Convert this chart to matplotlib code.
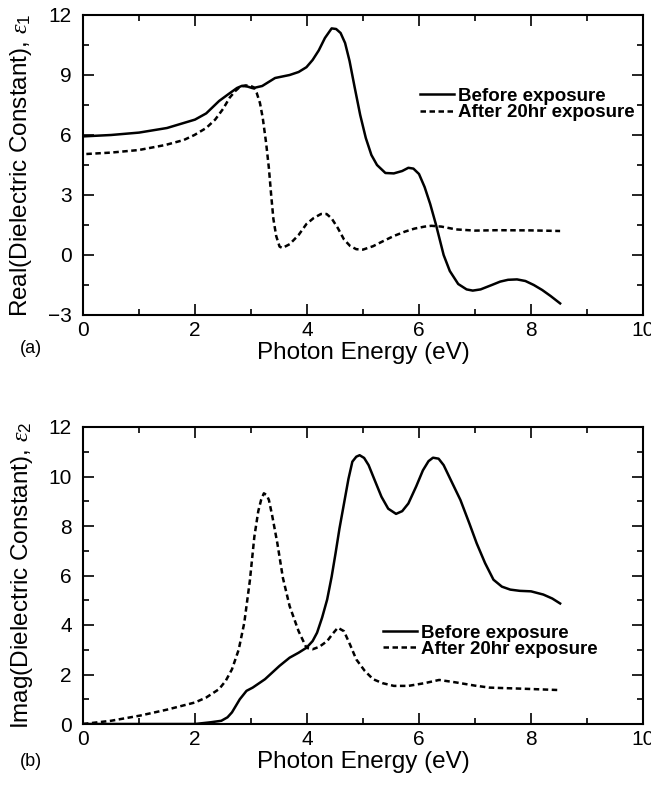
import numpy as np
import matplotlib.pyplot as plt
from matplotlib.ticker import MultipleLocator

plt.rcParams['font.family'] = ['Liberation Sans', 'DejaVu Sans']
plt.rcParams['mathtext.fontset'] = 'custom'
plt.rcParams['mathtext.rm'] = 'Liberation Sans'
plt.rcParams['mathtext.it'] = 'Liberation Serif:italic'

# (a) parte real - antes da exposicao
xa_antes = [0.0, 0.5, 1.0, 1.5, 2.0, 2.2, 2.43, 2.6, 2.75, 2.84, 2.94, 3.03, 3.2, 3.43, 3.69,
            3.85, 3.99, 4.1, 4.21, 4.32, 4.44, 4.52, 4.6, 4.68, 4.76, 4.85, 4.95, 5.05, 5.15,
            5.25, 5.4, 5.55, 5.7, 5.81, 5.9, 6.0, 6.1, 6.2, 6.3, 6.44, 6.55, 6.7, 6.85, 6.96,
            7.1, 7.3, 7.45, 7.59, 7.75, 7.9, 8.05, 8.2, 8.35, 8.52]
ya_antes = [5.93, 6.0, 6.12, 6.35, 6.77, 7.08, 7.7, 8.05, 8.35, 8.46, 8.42, 8.34, 8.45, 8.85, 9.0,
            9.15, 9.39, 9.75, 10.23, 10.85, 11.33, 11.3, 11.1, 10.6, 9.7, 8.4, 7.0, 5.85, 5.0,
            4.5, 4.1, 4.08, 4.2, 4.36, 4.32, 4.05, 3.4, 2.55, 1.55, 0.0, -0.8, -1.45, -1.72, -1.78,
            -1.72, -1.5, -1.33, -1.24, -1.22, -1.3, -1.5, -1.75, -2.05, -2.42]

# (a) parte real - depois de 20h
xa_depois = [0.06, 0.5, 1.0, 1.47, 1.8, 1.99, 2.2, 2.36, 2.5, 2.62, 2.72, 2.8, 2.9, 2.99, 3.05,
             3.1, 3.16, 3.21, 3.27, 3.32, 3.36, 3.4, 3.45, 3.51, 3.56, 3.69, 3.85, 3.99, 4.12,
             4.25, 4.35, 4.44, 4.55, 4.66, 4.77, 4.88, 5.0, 5.18, 5.35, 5.55, 5.75, 5.92, 6.1,
             6.22, 6.4, 6.66, 7.0, 7.4, 8.0, 8.52]
ya_depois = [5.05, 5.12, 5.25, 5.5, 5.75, 6.0, 6.35, 6.77, 7.3, 7.87, 8.2, 8.4, 8.48, 8.46, 8.38,
             8.12, 7.6, 6.85, 5.6, 4.33, 3.0, 1.8, 0.95, 0.42, 0.35, 0.54, 1.0, 1.55, 1.85,
             2.05, 2.05, 1.83, 1.35, 0.78, 0.45, 0.29, 0.27, 0.44, 0.68, 0.95, 1.17, 1.32, 1.42,
             1.46, 1.42, 1.28, 1.22, 1.24, 1.23, 1.2]

# (b) parte imaginaria - antes da exposicao
xb_antes = [0.0, 1.0, 2.0, 2.28, 2.47, 2.58, 2.66, 2.8, 2.92, 3.03, 3.25, 3.51, 3.69, 3.85, 3.99,
            4.1, 4.18, 4.27, 4.36, 4.44, 4.51, 4.58, 4.66, 4.74, 4.81, 4.88, 4.94, 5.02, 5.1,
            5.2, 5.33, 5.45, 5.59, 5.7, 5.81, 5.95, 6.07, 6.17, 6.25, 6.35, 6.44, 6.58, 6.74,
            6.9, 7.03, 7.18, 7.33, 7.48, 7.63, 7.8, 8.0, 8.22, 8.38, 8.52]
yb_antes = [0.0, 0.0, 0.0, 0.07, 0.13, 0.27, 0.47, 1.0, 1.34, 1.47, 1.81, 2.35, 2.68, 2.88, 3.08,
            3.35, 3.69, 4.3, 5.03, 5.95, 6.9, 7.9, 8.9, 9.9, 10.6, 10.8, 10.86, 10.75, 10.46,
            9.9, 9.18, 8.7, 8.49, 8.6, 8.91, 9.6, 10.25, 10.62, 10.76, 10.72, 10.46, 9.8, 9.05,
            8.1, 7.3, 6.5, 5.83, 5.55, 5.43, 5.38, 5.36, 5.23, 5.07, 4.87]

# (b) parte imaginaria - depois de 20h
xb_depois = [0.0, 0.5, 1.02, 1.5, 2.0, 2.2, 2.43, 2.55, 2.66, 2.78, 2.88, 2.98, 3.06, 3.13, 3.18,
             3.23, 3.28, 3.32, 3.38, 3.47, 3.57, 3.69, 3.85, 3.99, 4.1, 4.22, 4.36, 4.46, 4.55,
             4.66, 4.77, 4.88, 5.03, 5.18, 5.35, 5.55, 5.81, 6.1, 6.36, 6.66, 7.0, 7.26, 7.8,
             8.52]
yb_depois = [0.0, 0.13, 0.34, 0.58, 0.87, 1.07, 1.41, 1.75, 2.21, 3.0, 4.09, 5.8, 7.57, 8.6, 9.05,
             9.32, 9.25, 9.05, 8.4, 7.31, 5.9, 4.76, 3.75, 3.08, 3.02, 3.12, 3.35, 3.65, 3.89,
             3.75, 3.2, 2.61, 2.15, 1.81, 1.65, 1.54, 1.54, 1.65, 1.78, 1.68, 1.55, 1.47, 1.43,
             1.37]

fig = plt.figure(figsize=(6.51, 7.86), dpi=100)
ax1 = fig.add_axes([83/651, 1-315/786, 560/651, 300/786])
ax2 = fig.add_axes([83/651, 1-724/786, 560/651, 297/786])

tracejado = (0, (2.2, 1.4))
ax1.plot(xa_antes, ya_antes, color='black', lw=1.8, label='Before exposure')
ax1.plot(xa_depois, ya_depois, color='black', lw=1.8, ls=tracejado, label='After 20hr exposure')
ax2.plot(xb_antes, yb_antes, color='black', lw=1.8, label='Before exposure')
ax2.plot(xb_depois, yb_depois, color='black', lw=1.8, ls=tracejado, label='After 20hr exposure')

ax1.set_xlim(0, 10)
ax1.set_ylim(-3, 12)
ax1.yaxis.set_major_locator(MultipleLocator(3))
ax1.yaxis.set_minor_locator(MultipleLocator(1.5))
ax2.set_xlim(0, 10)
ax2.set_ylim(0, 12)
ax2.yaxis.set_major_locator(MultipleLocator(2))
ax2.yaxis.set_minor_locator(MultipleLocator(1))

for ax in (ax1, ax2):
    ax.xaxis.set_major_locator(MultipleLocator(2))
    ax.xaxis.set_minor_locator(MultipleLocator(1))
    ax.tick_params(which='both', direction='in', top=True, right=True, width=1.2,
                   labelsize=15)
    ax.tick_params(axis='x', pad=4)
    ax.tick_params(axis='y', pad=8)
    ax.tick_params(which='major', length=8)
    ax.tick_params(which='minor', length=4.5)
    for s in ax.spines.values():
        s.set_linewidth(1.5)
    ax.set_xlabel('Photon Energy (eV)', fontsize=17.5, labelpad=2)

ax1.set_ylabel(r'Real(Dielectric Constant), $\it{\varepsilon}_1$', fontsize=17.5, labelpad=10)
ax2.set_ylabel(r'Imag(Dielectric Constant), $\it{\varepsilon}_2$', fontsize=17.5, labelpad=10)

fig.text(20/651, 1-348/786, '(a)', fontsize=13, va='center')
fig.text(20/651, 1-761/786, '(b)', fontsize=13, va='center')

leg_kw = dict(frameon=False, handlelength=1.8, handletextpad=0.2, labelspacing=-0.05,
              borderpad=0, borderaxespad=0, prop={'weight': 'bold', 'size': 13.5})
ax1.legend(loc='upper left', bbox_to_anchor=(0.602, 0.757), **leg_kw)
ax2.legend(loc='upper left', bbox_to_anchor=(0.536, 0.335), **leg_kw)

fig.savefig('out.png', dpi=100)
